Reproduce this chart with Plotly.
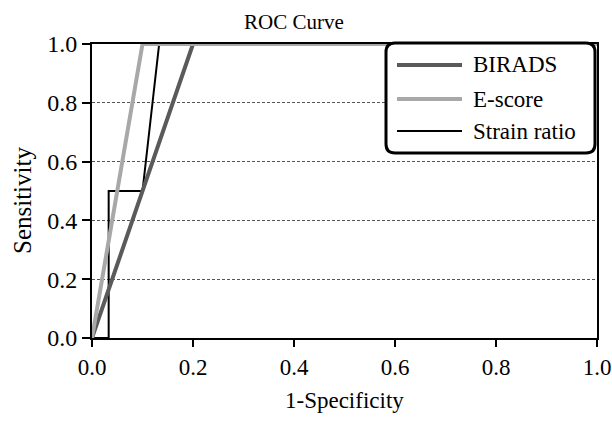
import plotly.graph_objects as go

# ROC data (1-Specificity, Sensitivity)
birads_fpr = [0.0, 0.2, 1.0]
birads_tpr = [0.0, 1.0, 1.0]
escore_fpr = [0.0, 0.1, 1.0]
escore_tpr = [0.0, 1.0, 1.0]
strain_fpr = [0.0, 0.033, 0.033, 0.1, 0.133, 1.0]
strain_tpr = [0.0, 0.0, 0.5, 0.5, 1.0, 1.0]

series_names = ["BIRADS", "E-score", "Strain ratio"]
series_colors = ["#5a5a5a", "#a8a8a8", "#000000"]
series_widths = [4, 4, 2]

tick_vals = [0.0, 0.2, 0.4, 0.6, 0.8, 1.0]
tick_text = ["0.0", "0.2", "0.4", "0.6", "0.8", "1.0"]

FONT = "Liberation Serif, Times New Roman, serif"

fig = go.Figure()
# drawing order: strain ratio underneath, then BIRADS, then E-score on top
fig.add_trace(go.Scatter(x=strain_fpr, y=strain_tpr, mode="lines", name=series_names[2],
                         line=dict(color=series_colors[2], width=series_widths[2]), showlegend=False))
fig.add_trace(go.Scatter(x=birads_fpr, y=birads_tpr, mode="lines", name=series_names[0],
                         line=dict(color=series_colors[0], width=series_widths[0]), showlegend=False))
fig.add_trace(go.Scatter(x=escore_fpr, y=escore_tpr, mode="lines", name=series_names[1],
                         line=dict(color=series_colors[1], width=series_widths[1]), showlegend=False))

W, H = 612, 421
L, R, T, B = 92, 15, 44, 83
pw, ph = W - L - R, H - T - B

def px(xp):
    return (xp - L) / pw

def py(yp):
    return (H - B - yp) / ph

shapes = []
annotations = []

# rounded legend box
x0, x1 = px(386), px(595)
y0, y1 = py(153), py(43)
rx, ry = 9 / pw, 9 / ph
path = (f"M {x0+rx},{y1} L {x1-rx},{y1} Q {x1},{y1} {x1},{y1-ry} "
        f"L {x1},{y0+ry} Q {x1},{y0} {x1-rx},{y0} "
        f"L {x0+rx},{y0} Q {x0},{y0} {x0},{y0+ry} "
        f"L {x0},{y1-ry} Q {x0},{y1} {x0+rx},{y1} Z")
shapes.append(dict(type="path", xref="paper", yref="paper", path=path,
                   line=dict(color="black", width=3), fillcolor="white", layer="above"))

rows = [65, 99, 131]
for name, color, width, ry_ in zip(series_names, series_colors, series_widths, rows):
    shapes.append(dict(type="line", xref="paper", yref="paper",
                       x0=px(397), x1=px(462), y0=py(ry_), y1=py(ry_),
                       line=dict(color=color, width=width), layer="above"))
    annotations.append(dict(text=name, xref="paper", yref="paper", x=px(471), y=py(ry_),
                            xanchor="left", yanchor="middle", showarrow=False,
                            font=dict(family=FONT, size=23, color="black")))

annotations.append(dict(text="ROC Curve", xref="paper", yref="paper", x=px(294), y=py(22),
                        xanchor="center", yanchor="middle", showarrow=False,
                        font=dict(family=FONT, size=21, color="black")))
annotations.append(dict(text="1-Specificity", xref="paper", yref="paper", x=px(344), y=py(400),
                        xanchor="center", yanchor="middle", showarrow=False,
                        font=dict(family=FONT, size=23, color="black")))
annotations.append(dict(text="Sensitivity", xref="paper", yref="paper", x=px(22), y=py(201),
                        xanchor="center", yanchor="middle", showarrow=False, textangle=-90,
                        font=dict(family=FONT, size=25, color="black")))

fig.update_layout(
    width=W, height=H,
    margin=dict(l=L, r=R, t=T, b=B, pad=0, autoexpand=False),
    paper_bgcolor="white", plot_bgcolor="white",
    font=dict(family=FONT, size=22, color="black"),
    shapes=shapes, annotations=annotations,
    showlegend=False,
)
fig.update_xaxes(range=[0, 1], tickvals=tick_vals, ticktext=tick_text,
                 showline=True, linecolor="black", linewidth=2, mirror=True,
                 ticks="outside", ticklen=7, tickwidth=2, tickcolor="black",
                 showgrid=False, zeroline=False, automargin=False,
                 tickfont=dict(family=FONT, size=23))
fig.update_yaxes(range=[0, 1], tickvals=tick_vals, ticktext=tick_text,
                 showline=True, linecolor="black", linewidth=2, mirror=True,
                 ticks="outside", ticklen=8, tickwidth=2, tickcolor="black",
                 showgrid=True, gridcolor="#555555", gridwidth=1, griddash="3px,2px",
                 zeroline=False, automargin=False,
                 tickfont=dict(family=FONT, size=24))

fig.write_html("out.html", config={"displayModeBar": False},
               post_script="document.body.style.margin='0';")
